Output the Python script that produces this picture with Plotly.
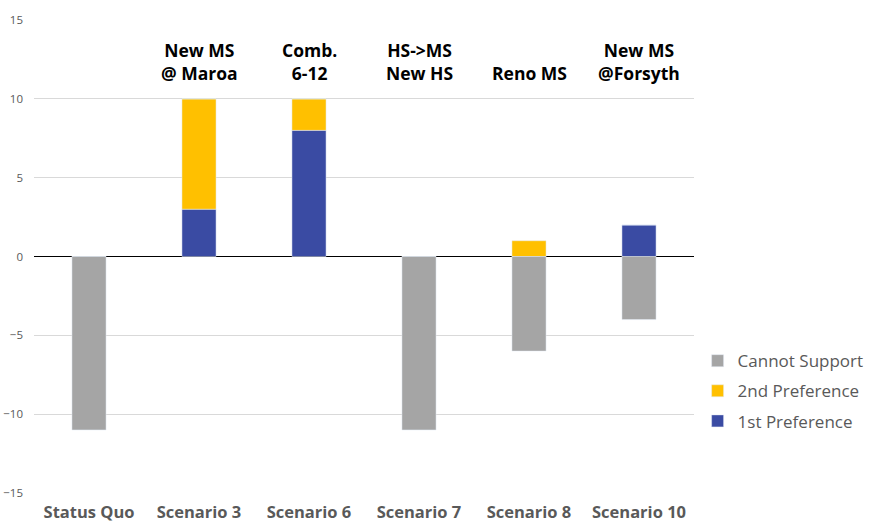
import plotly.graph_objects as go

categories = ["Status Quo", "Scenario 3", "Scenario 6", "Scenario 7", "Scenario 8", "Scenario 10"]
first_pref = [0, 3, 8, 0, 0, 2]
second_pref = [0, 7, 2, 0, 1, 0]
cannot_support = [-11, 0, 0, -11, -6, -4]
scenario_notes = ["", "New MS<br>@ Maroa", "Comb.<br>6-12", "HS->MS<br>New HS", "Reno MS", "New MS<br>@Forsyth"]
y_ticks = [-15, -10, -5, 0, 5, 10, 15]

fig = go.Figure()
fig.add_trace(go.Bar(name="1st Preference", x=categories, y=first_pref, marker_color="#3A4BA3",
                     legendgroup="a", legendrank=3))
fig.add_trace(go.Bar(name="2nd Preference", x=categories, y=second_pref, marker_color="#FFC000",
                     legendgroup="b", legendrank=2))
fig.add_trace(go.Bar(name="Cannot Support", x=categories, y=cannot_support, marker_color="#A5A5A5",
                     legendgroup="c", legendrank=1))

for cat, note in zip(categories, scenario_notes):
    if note:
        fig.add_annotation(x=cat, y=10.75, xref="x", yref="y", text="<b>" + note + "</b>",
                           showarrow=False, yanchor="bottom",
                           font=dict(family="Open Sans", size=17.5, color="#000000"))

fig.update_layout(
    barmode="relative",
    bargap=0.69,
    width=872, height=525,
    margin=dict(l=34, r=178, t=20, b=32),
    paper_bgcolor="white", plot_bgcolor="white",
    font=dict(family="Open Sans", color="#595959"),
    legend=dict(traceorder="grouped", xref="container", yref="container",
                x=0.800, y=0.255, yanchor="middle", xanchor="left",
                font=dict(size=17, color="#595959"), itemwidth=30, tracegroupgap=5),
    showlegend=True,
)
fig.update_yaxes(range=[-15, 15], tickvals=y_ticks, showgrid=True, gridcolor="#D9D9D9",
                 zeroline=True, zerolinecolor="#000000", zerolinewidth=1, automargin=False,
                 ticklabelstandoff=10,
                 tickfont=dict(size=11.5, color="#595959"), ticks="", showline=False)
fig.update_xaxes(showgrid=False, showline=False, ticks="", automargin=False,
                 ticklabelstandoff=7,
                 tickfont=dict(family="Open Sans", size=16.5, color="#595959"),
                 tickprefix="<b>", ticksuffix="</b>")

fig.write_html("out.html", config={"displayModeBar": False},
               post_script="document.body.style.margin='0';")
